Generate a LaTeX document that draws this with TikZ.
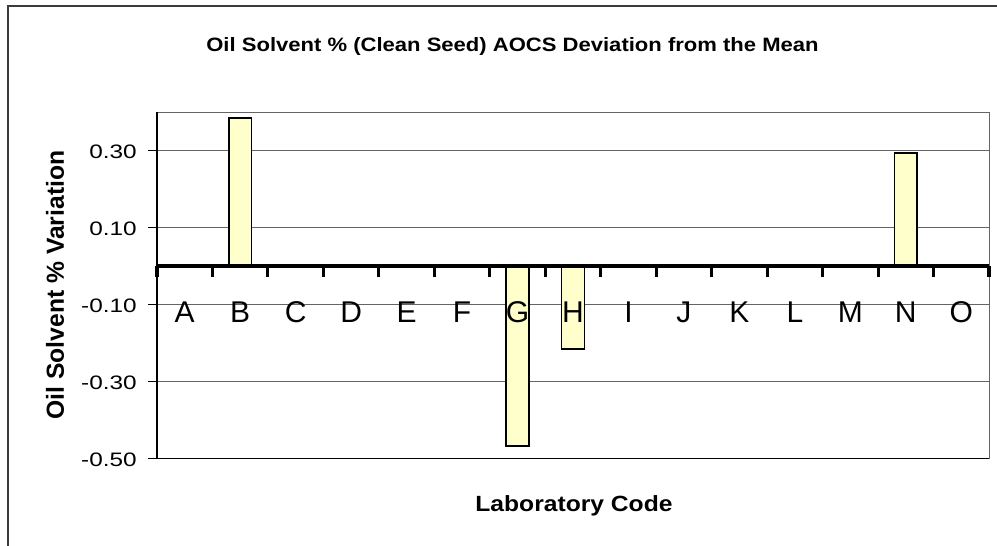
\documentclass[tikz,border=0pt]{standalone}
\usepackage{fontspec}
\setsansfont{Liberation Sans}
\usepackage{graphicx}
\definecolor{baryellow}{RGB}{255,255,204}
\definecolor{framegray}{RGB}{60,60,60}
\definecolor{gridgray}{RGB}{100,100,100}
\newcommand{\widelabel}[1]{\scalebox{1.25}[1]{#1}}
\tikzset{every picture/.style={/utils/exec={\sffamily}}}
\usetikzlibrary{positioning}

\begin{document}
\begin{tikzpicture}[x=0.75pt,y=-0.75pt]
  \useasboundingbox (0,0) rectangle (997,546);
  \clip (0,0) rectangle (997,546);
  \draw[framegray, line width=1.5pt] (8,6) rectangle (1020,570);

  \begin{scope}[every node/.style={inner sep=0pt, font=\bfseries}]
    \node [anchor=base, font=\fontsize{14.5}{17}\selectfont\bfseries] (title) at (512.5,51) {\scalebox{1.14}[1]{Oil Solvent \% (Clean Seed) AOCS Deviation from the Mean}};
    \node [rotate=90, font=\fontsize{18.5}{22}\selectfont\bfseries] (ylabel) at (55,285) {Oil Solvent \% Variation};
    \node [anchor=base, font=\fontsize{16.5}{20}\selectfont\bfseries] (xlabel) at (574,511) {\scalebox{1.12}[1]{Laboratory Code}};
  \end{scope}

  \begin{scope}[shift={(157,266)}, x=41.6pt, y=288.75pt]
    \foreach \v in {0.3,0.1,-0.1,-0.3}
      \draw[gridgray, line width=0.75pt] (0,\v) -- (15,\v);
    \draw[gridgray, line width=0.75pt] (0,-0.5) rectangle (15,0.4);
    \draw[black, line width=0.9pt] (0,-0.5) -- (0,0.4) (0,-0.5) -- (15,-0.5);

    \begin{scope}[every node/.style={anchor=base east, inner sep=0pt, font=\fontsize{14.6}{17}\selectfont}]
      \foreach \txt [count=\i] in {0.30,0.10,{-0.10},{-0.30},{-0.50}} {
        \pgfmathsetmacro{\v}{0.5-0.2*\i}
        \draw[black, line width=0.9pt] (-0.162,\v) -- (0,\v);
        \node (tick\i) at (-0.361,\v-0.0208) {\widelabel{\txt}};
      }
    \end{scope}

    \foreach \lab/\val in {2/0.385, 7/-0.467, 8/-0.216, 14/0.294}
      \draw[fill=baryellow, draw=black, line width=1.1pt] (\lab-0.704,0) rectangle (\lab-0.296,\val);

    \draw[black, line width=2.3pt] (0,0) -- (15,0);
    \foreach \i in {0,...,15}
      \draw[black, line width=2.3pt] (\i,0) -- (\i,-0.0286);

    \begin{scope}[every node/.style={anchor=base, inner sep=0pt, font=\fontsize{22.5}{26}\selectfont}]
      \foreach \lab [count=\i] in {A,B,C,D,E,F,G,H,I,J,K,L,M,N,O}
        \node (lab\lab) at (\i-0.5,-0.1455) {\lab};
    \end{scope}
  \end{scope}
\end{tikzpicture}
\end{document}
